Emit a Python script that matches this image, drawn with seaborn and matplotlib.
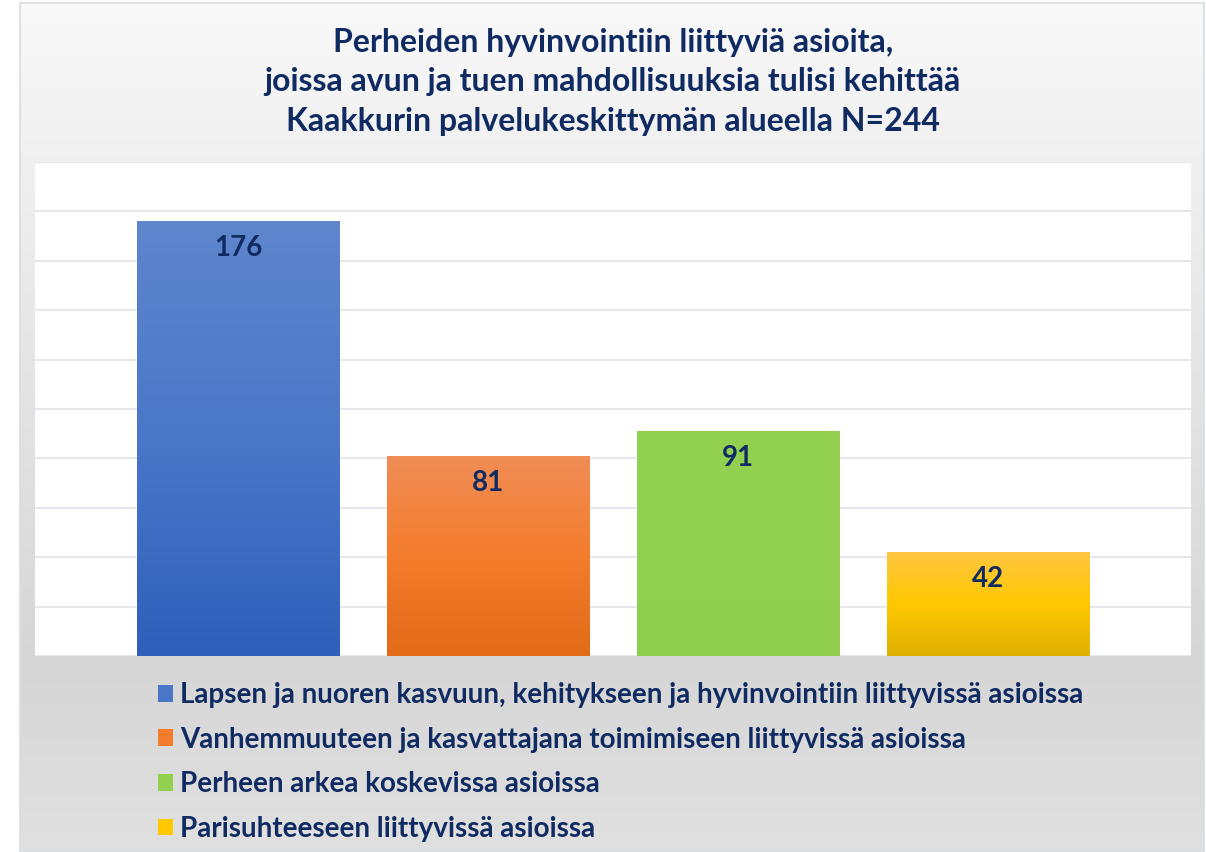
import numpy as np
import seaborn as sns
import matplotlib.pyplot as plt
from matplotlib.patches import Patch
from matplotlib.colors import LinearSegmentedColormap

# Chart data
categories = [
    'Lapsen ja nuoren kasvuun, kehitykseen ja hyvinvointiin liittyvissä asioissa',
    'Vanhemmuuteen ja kasvattajana toimimiseen liittyvissä asioissa',
    'Perheen arkea koskevissa asioissa',
    'Parisuhteeseen liittyvissä asioissa',
]
values = [176, 81, 91, 42]
base_colors = ['#4472c4', '#ed7d31', '#92d050', '#ffc000']
# gradient stops for each bar (top, middle, bottom)
gradients = [
    ['#5f86cd', '#4a77c8', '#2f5fbb'],
    ['#f08d57', '#f47c2c', '#e36a17'],
    ['#93d251', '#92d050', '#90cf4e'],
    ['#fec640', '#ffc800', '#deb000'],
]
title = ('Perheiden hyvinvointiin liittyviä asioita,\n'
         'joissa avun ja tuen mahdollisuuksia tulisi kehittää\n'
         'Kaakkurin palvelukeskittymän alueella N=244')

sns.set_theme(style='white')
plt.rcParams['font.family'] = ['Lato', 'DejaVu Sans']
navy = '#102a62'

fig = plt.figure(figsize=(12.06, 8.52), dpi=100)
fig.patch.set_facecolor('white')

# Gray gradient background of the chart frame
bg = fig.add_axes([20 / 1206, 0, 1184 / 1206, 849 / 852])
bg_cmap = LinearSegmentedColormap.from_list(
    'bg', [(0, '#f9f9f9'), (0.2, '#efefef'), (0.78, '#d6d6d6'), (1, '#e0e0e0')])
bg.imshow(np.linspace(0, 1, 256).reshape(-1, 1), cmap=bg_cmap, aspect='auto',
          extent=[0, 1, 0, 1])
bg.set_xlim(0, 1)
bg.set_ylim(0, 1)
bg.set_xticks([])
bg.set_yticks([])
for s in bg.spines.values():
    s.set_color('#d9dce3')
    s.set_linewidth(1.2)

# Plot area
ax = fig.add_axes([35 / 1206, 196 / 852, 1156 / 1206, 494 / 852])
ax.set_facecolor('white')
sns.barplot(x=list(range(len(values))), y=values, hue=list(range(len(values))),
            palette=base_colors, width=0.81, legend=False, saturation=1, ax=ax)

ax.set_ylim(0, 200)
ax.set_xlim(-0.814, 3.814)
ax.set_yticks(np.arange(0, 201, 20))
ax.yaxis.grid(True, color='#e3e5ec', linewidth=1.3)
ax.set_axisbelow(True)
ax.tick_params(left=False, bottom=False, labelleft=False, labelbottom=False)
ax.set_xlabel('')
ax.set_ylabel('')
for s in ax.spines.values():
    s.set_visible(False)

# Vertical gradients inside the bars and value labels
bars = sorted(ax.patches, key=lambda p: p.get_x())
for bar, stops, val in zip(bars, gradients, values):
    x0, w, h = bar.get_x(), bar.get_width(), bar.get_height()
    cmap = LinearSegmentedColormap.from_list('g', list(reversed(stops)))
    im = ax.imshow(np.linspace(0, 1, 256).reshape(-1, 1), cmap=cmap,
                   aspect='auto', origin='lower', extent=[x0, x0 + w, 0, h],
                   zorder=bar.get_zorder() + 0.1)
    im.set_clip_path(bar)
    ax.annotate(str(val), (x0 + w / 2, h), xytext=(0, -19.5),
                textcoords='offset points', ha='center', va='center',
                fontsize=20, fontweight='bold', color=navy, zorder=5)
ax.set_xlim(-0.814, 3.814)
ax.set_ylim(0, 200)

# Title
fig.text(0.508, 1 - 82 / 852, title, ha='center', va='center', fontsize=23,
         fontweight='bold', color=navy, linespacing=1.45)

# Legend below the plot
handles = [Patch(facecolor=g[1], edgecolor='none') for g in gradients]
leg = fig.legend(handles, categories, loc='upper left',
                 bbox_to_anchor=(133 / 1206, 1 - 657 / 852), frameon=False,
                 prop={'size': 20, 'weight': 'bold'}, labelspacing=0.67,
                 handlelength=0.55, handleheight=0.55, handletextpad=0.25)
for t in leg.get_texts():
    t.set_color(navy)

plt.savefig('out.png', dpi=100)
